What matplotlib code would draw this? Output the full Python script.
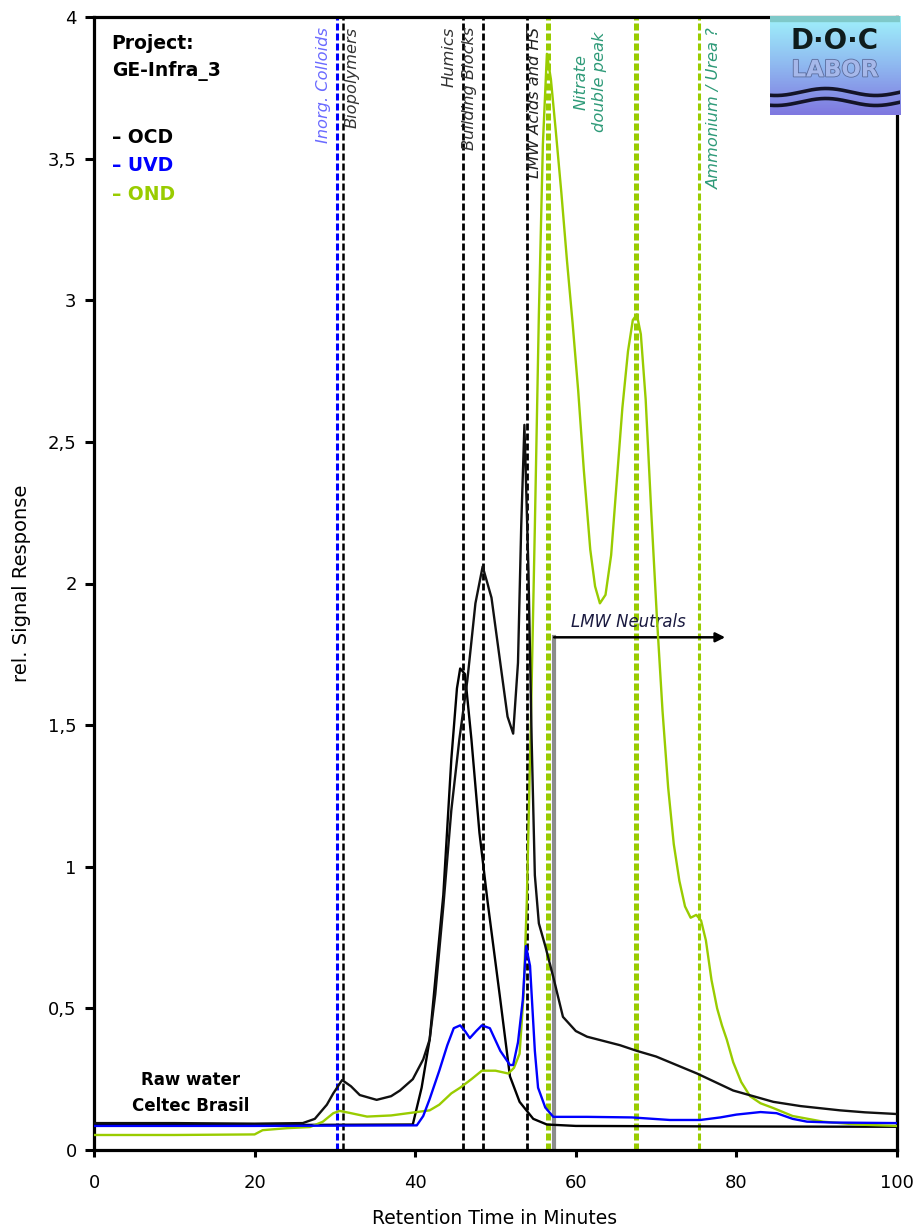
""" LC-OCD chromatogram, raw water Celtec Brasil """
import numpy as np
import matplotlib
matplotlib.use("Agg")
import matplotlib.pyplot as plt
import matplotlib.patheffects as pe

plt.rcParams['font.family'] = ['DejaVu Sans']

# OCD, main trace
ocd_x = [0, 10, 20, 26, 27.5, 29, 29.8, 30.9, 32, 33.1, 35.2, 37, 38.1, 39.7, 41, 41.8,
         42.5, 43.5, 44.5, 45.5, 46.5, 47.5, 48.4, 49.5, 50.5, 51.5, 52.2, 52.8, 53.2,
         53.6, 54.1, 54.5, 54.9, 55.4, 56.2, 57.2, 58.4, 60, 61.4, 65.5, 67.6, 70, 75.1,
         79.6, 84.6, 88, 92.9, 96, 100]
ocd_y = [0.095, 0.095, 0.093, 0.095, 0.11, 0.16, 0.2, 0.247, 0.225, 0.194, 0.177, 0.19,
         0.21, 0.25, 0.32, 0.39, 0.55, 0.86, 1.2, 1.45, 1.66, 1.93, 2.06, 1.95, 1.74, 1.53,
         1.47, 1.72, 2.2, 2.56, 2.05, 1.45, 0.97, 0.8, 0.72, 0.61, 0.47, 0.42, 0.40, 0.37,
         0.35, 0.33, 0.27, 0.21, 0.17, 0.155, 0.14, 0.133, 0.127]

# OCD, second trace
ocd2_x = [0, 20, 39.7, 40.8, 41.8, 42.5, 43.5, 44.5, 45.2, 45.6, 46.2, 47, 48, 49, 50.6,
          51.8, 53, 54.7, 56.4, 60, 80, 100]
ocd2_y = [0.088, 0.088, 0.09, 0.22, 0.39, 0.6, 0.9, 1.38, 1.63, 1.70, 1.68, 1.45, 1.12,
          0.88, 0.53, 0.26, 0.17, 0.11, 0.09, 0.085, 0.083, 0.082]

# UVD
uvd_x = [0, 20, 40.2, 41, 41.8, 43, 44, 44.8, 45.6, 46.2, 46.8, 47.6, 48.3, 49.3, 50.6,
         51.8, 52.2, 52.8, 53.4, 53.8, 54.3, 54.9, 55.3, 56.2, 57.2, 61.4, 67, 71.7, 75.5,
         78, 80, 83, 85, 87, 88.8, 92, 100]
uvd_y = [0.085, 0.085, 0.087, 0.12, 0.18, 0.28, 0.37, 0.43, 0.44, 0.42, 0.395, 0.42, 0.44,
         0.43, 0.35, 0.3, 0.3, 0.38, 0.53, 0.72, 0.65, 0.35, 0.22, 0.15, 0.117, 0.117,
         0.115, 0.106, 0.106, 0.115, 0.125, 0.134, 0.13, 0.11, 0.1, 0.097, 0.095]

# OND
ond_x = [0, 10, 20, 21, 24, 26.9, 28.5, 29.8, 30.6, 32, 34, 37, 40.2, 41.8, 43, 44.5,
         45.6, 47, 48.3, 50, 51.6, 52.3, 53, 53.5, 53.9, 54.4, 54.9, 55.4, 55.9, 56.4,
         56.9, 57.5, 58.2, 58.9, 59.6, 60.3, 61, 61.8, 62.4, 63, 63.7, 64.4, 65.1, 65.8,
         66.5, 67.1, 67.6, 68.1, 68.7, 69.4, 70.1, 70.8, 71.5, 72.2, 72.9, 73.6, 74.3, 75,
         75.6, 76.2, 76.9, 77.6, 78.2, 78.8, 79.6, 80.6, 81.7, 83, 84.6, 87, 90.8, 95, 100]
ond_y = [0.053, 0.053, 0.055, 0.07, 0.077, 0.081, 0.1, 0.13, 0.138, 0.13, 0.118, 0.122,
         0.134, 0.14, 0.16, 0.2, 0.22, 0.25, 0.28, 0.28, 0.27, 0.29, 0.34, 0.55, 0.88, 1.5,
         2.2, 2.95, 3.55, 3.87, 3.78, 3.6, 3.38, 3.14, 2.92, 2.68, 2.4, 2.12, 1.99, 1.93,
         1.96, 2.1, 2.36, 2.62, 2.82, 2.93, 2.95, 2.88, 2.65, 2.25, 1.88, 1.55, 1.28, 1.08,
         0.95, 0.86, 0.82, 0.83, 0.81, 0.74, 0.6, 0.5, 0.44, 0.39, 0.31, 0.24, 0.19, 0.165,
         0.148, 0.12, 0.1, 0.09, 0.085]

# fraction markers: (x, colour, width)
markers = [
    (30.3, "#0000ff", 2.2),
    (31.0, "black", 1.8),
    (45.9, "black", 2.0),
    (48.4, "black", 2.0),
    (53.9, "black", 2.0),
    (56.6, "#99cc00", 3.6),
    (67.5, "#99cc00", 3.6),
    (75.3, "#99cc00", 2.2),
]
labels = [
    (28.6, "Inorg. Colloids", "#6a6aff"),
    (32.1, "Biopolymers", "#333333"),
    (44.2, "Humics", "#333333"),
    (46.8, "Building Blocks", "#333333"),
    (54.9, "LMW Acids and HS", "#222222"),
    (77.2, "Ammonium / Urea ?", "#2e9a78"),
]
neutrals_x, neutrals_y, neutrals_end = 57.3, 1.81, 78.6

yticks = [0, 0.5, 1, 1.5, 2, 2.5, 3, 3.5, 4]
ytick_labels = ["0", "0,5", "1", "1,5", "2", "2,5", "3", "3,5", "4"]
xticks = [0, 20, 40, 60, 80, 100]

W, H = 918, 1232
fig = plt.figure(figsize=(W / 100, H / 100), dpi=100)
ax = fig.add_axes([94 / W, 1 - 1150 / H, 803 / W, 1133 / H])
ax.set_xlim(0, 100)
ax.set_ylim(0, 4)

for x, c, lw in markers:
    ax.axvline(x, color=c, lw=lw, ls=(0, (7.0 / lw * 0.72, 3.0 / lw * 0.72)), zorder=1)

# LMW neutrals marker
ax.plot([neutrals_x, neutrals_x], [0, neutrals_y], color="#8c8c8c", lw=3, zorder=1.5)
ax.annotate("", xy=(neutrals_end, neutrals_y), xytext=(neutrals_x, neutrals_y),
            arrowprops=dict(arrowstyle="-|>", color="black", lw=1.8,
                            mutation_scale=14, shrinkA=0, shrinkB=0))
ax.text(66.5, 1.865, "LMW Neutrals", style="italic", fontsize=11.9, color="#1a1a40",
        ha="center", va="center")

ax.plot(ocd2_x, ocd2_y, color="black", lw=1.7, zorder=3)
ax.plot(ond_x, ond_y, color="#99cc00", lw=1.7, zorder=3)
ax.plot(ocd_x, ocd_y, color="#111111", lw=1.7, zorder=3)
ax.plot(uvd_x, uvd_y, color="#0000ff", lw=1.7, zorder=4)

for x, txt, c in labels:
    ax.text(x, 3.965, txt, rotation=90, style="italic", fontsize=11.7, color=c,
            ha="center", va="top")
ax.text(61.8, 3.77, "Nitrate\ndouble peak", rotation=90, style="italic", fontsize=11.7,
        color="#2e9a78", ha="center", va="center", multialignment="center",
        linespacing=1.25)

# project / legend block
ax.text(2.2, 3.907, "Project:", fontsize=13.5, fontweight="bold", va="center")
ax.text(2.2, 3.81, "GE-Infra_3", fontsize=13.5, fontweight="bold", va="center")
for yv, name, c in [(3.576, "OCD", "black"), (3.477, "UVD", "#0000ff"), (3.374, "OND", "#99cc00")]:
    ax.text(2.2, yv, "\u2013 " + name, fontsize=13.5, fontweight="bold", color=c, va="center")

ax.text(12, 0.247, "Raw water", fontsize=12, fontweight="bold", ha="center", va="center")
ax.text(12, 0.155, "Celtec Brasil", fontsize=12, fontweight="bold", ha="center", va="center")

ax.set_xticks(xticks)
ax.set_yticks(yticks)
ax.set_yticklabels(ytick_labels)
ax.tick_params(axis="x", direction="out", length=5, width=2.2, pad=12, labelsize=13)
ax.tick_params(axis="y", direction="out", length=6.5, width=2.2, pad=6, labelsize=13)
for s in ax.spines.values():
    s.set_linewidth(2.3)

fig.text(22 / W, 1 - 583 / H, "rel. Signal Response", rotation=90, fontsize=14,
         ha="center", va="center")
fig.text(495 / W, 1 - 1219 / H, "Retention Time in Minutes", fontsize=13.5,
         ha="center", va="center")

# DOC-LABOR logo
lg = fig.add_axes([770 / W, 1 - 115 / H, 130 / W, 99 / H])
lg.set_xlim(0, 130)
lg.set_ylim(99, 0)
lg.axis("off")
grad = np.linspace(0, 1, 100).reshape(-1, 1)
cmap = matplotlib.colors.LinearSegmentedColormap.from_list("logo", ["#9ff2fb", "#8fb8f0", "#7f78e0"])
lg.imshow(grad, cmap=cmap, extent=(0, 130, 99, 0), aspect="auto")
lg.add_patch(plt.Rectangle((0, 0), 130, 5, color="#7fc9c9"))
lg.text(65, 25, "D\u00b7O\u00b7C", fontsize=20, fontweight="bold", color="#0f1c1c",
        ha="center", va="center")
lg.text(65, 54, "LABOR", fontsize=16.5, fontweight="bold", color="#a6b8ea", ha="center",
        va="center", path_effects=[pe.withStroke(linewidth=1.2, foreground="#5a6c9c")])
wx = np.linspace(0, 130, 200)
for off in (76, 86):
    lg.plot(wx, off + 3.5 * np.sin(wx / 130 * 2.6 * np.pi + 1.2), color="#141428", lw=2.6)

fig.savefig("out.png", dpi=100)
